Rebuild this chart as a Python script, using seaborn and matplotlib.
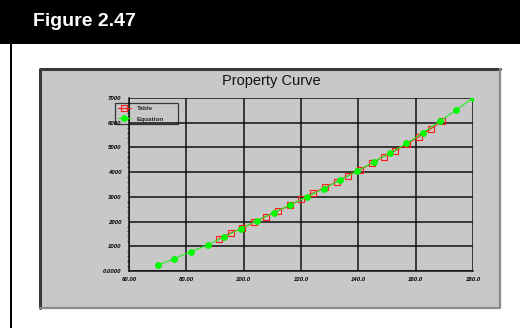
import matplotlib
matplotlib.use("Agg")
import matplotlib.pyplot as plt
import matplotlib.patches as mpatches
import matplotlib.lines as mlines
from matplotlib.ticker import MultipleLocator, FixedLocator
import seaborn as sns
import pandas as pd

# ---- data ----
eq_x = [70.0, 75.8, 81.6, 87.4, 93.2, 98.9, 104.7, 110.5, 116.3, 122.1,
        127.9, 133.7, 139.5, 145.3, 151.1, 156.8, 162.6, 168.4, 174.2, 180.0]
eq_y = [230, 500, 780, 1060, 1380, 1710, 2040, 2360, 2680, 3010,
        3330, 3680, 4040, 4410, 4780, 5160, 5590, 6060, 6520, 7000]
tab_x = [91.4, 95.5, 99.4, 103.6, 107.7, 111.9, 116.1, 120.1, 124.2, 128.3,
         132.5, 136.4, 140.6, 144.7, 148.8, 152.9, 157.0, 161.2, 165.2, 169.2]
tab_y = [1310, 1540, 1730, 1970, 2200, 2430, 2660, 2900, 3150, 3380,
         3615, 3860, 4090, 4360, 4630, 4870, 5150, 5440, 5750, 6070]
x_ticks = [60, 80, 100, 120, 140, 160, 180]
x_labels = ["60.00", "80.00", "100.0", "120.0", "140.0", "160.0", "180.0"]
y_ticks = [0, 1000, 2000, 3000, 4000, 5000, 6000, 7000]
y_labels = ["0.0000", "1000", "2000", "3000", "4000", "5000", "6000", "7000"]
series_names = ["Table", "Equation"]
header_text = "Figure 2.47"
chart_title = "Property Curve"

sns.set_style("white")
plt.rcParams["font.family"] = ["Liberation Sans", "DejaVu Sans"]

W, H = 520, 328
fig = plt.figure(figsize=(W / 100, H / 100), dpi=100)
fig.patch.set_facecolor("white")

def fx(px):
    return px / W

def fy(py):
    return 1 - py / H

# header bar
fig.patches.append(mpatches.Rectangle((0, fy(44)), 1, 44 / H, transform=fig.transFigure,
                                      facecolor="black", edgecolor="none", zorder=-5))
fig.text(fx(33), fy(21), header_text, color="white", fontsize=14, fontweight="bold",
         va="center", ha="left")
# left vertical rule
fig.patches.append(mpatches.Rectangle((fx(10), 0), 2.2 / W, fy(44), transform=fig.transFigure,
                                      facecolor="black", edgecolor="none", zorder=-5))
# gray panel with bevel border
px0, px1, py0, py1 = 40, 500, 69, 308
fig.patches.append(mpatches.Rectangle((fx(px0), fy(py1)), (px1 - px0) / W, (py1 - py0) / H,
                                      transform=fig.transFigure, facecolor="#c8c8c8",
                                      edgecolor="none", zorder=-5))
fig.lines.append(mlines.Line2D([fx(px0), fx(px0), fx(px1)], [fy(py1), fy(py0), fy(py0)],
                               transform=fig.transFigure, color="#3a3a3a", lw=2.2, zorder=-4))
fig.lines.append(mlines.Line2D([fx(px0), fx(px1), fx(px1)], [fy(py1), fy(py1), fy(py0)],
                               transform=fig.transFigure, color="#8a8a8a", lw=1.6, zorder=-4))
fig.text(fx(271), fy(81), chart_title, fontsize=10.5, ha="center", va="center", color="#111111")

# plot area
ax_l, ax_r, ax_t, ax_b = 129, 473, 98, 271
ax = fig.add_axes([fx(ax_l), fy(ax_b), (ax_r - ax_l) / W, (ax_b - ax_t) / H])
ax.set_zorder(2)
ax.set_facecolor("none")

tab_df = pd.DataFrame({"x": tab_x, "y": tab_y})
eq_df = pd.DataFrame({"x": eq_x, "y": eq_y})
sns.lineplot(data=tab_df, x="x", y="y", ax=ax, color="#ff1a1a", lw=0.8, marker="s",
             markersize=4.2, markerfacecolor="none", markeredgecolor="#ff1a1a",
             markeredgewidth=0.8, label=series_names[0], sort=False, estimator=None, zorder=3)
sns.lineplot(data=eq_df, x="x", y="y", ax=ax, color="#22ee22", lw=0.8, marker="o",
             markersize=4.3, markerfacecolor="#00ff00", markeredgecolor="#00ee00",
             markeredgewidth=0.5, label=series_names[1], sort=False, estimator=None, zorder=4)

ax.set_xlim(60, 180)
ax.set_ylim(0, 7000)
ax.set_xlabel("")
ax.set_ylabel("")
ax.xaxis.set_major_locator(FixedLocator(x_ticks))
ax.yaxis.set_major_locator(FixedLocator(y_ticks))
ax.set_xticklabels(x_labels)
ax.set_yticklabels(y_labels)
ax.yaxis.set_minor_locator(MultipleLocator(200))
ax.tick_params(axis="x", which="major", direction="out", length=2.5, width=0.9,
               labelsize=4.3, pad=2.0, colors="black", labelcolor="black")
ax.tick_params(axis="y", which="major", direction="out", length=2.5, width=0.9,
               labelsize=4.3, pad=3.0, colors="black", labelcolor="black")
ax.tick_params(axis="y", which="minor", direction="out", length=1.5, width=0.6, left=True)
for lab in ax.get_xticklabels() + ax.get_yticklabels():
    lab.set_fontweight("bold")
    lab.set_fontstyle("italic")
ax.grid(True, which="major", color="#111111", lw=1.1)
ax.set_axisbelow(True)
for s in ["top", "right"]:
    ax.spines[s].set_visible(False)
for s in ["left", "bottom"]:
    ax.spines[s].set_color("#111111")
    ax.spines[s].set_linewidth(1.1)

lx0 = (115 - ax_l) / (ax_r - ax_l)
lw_ = (178 - 115) / (ax_r - ax_l)
ly1 = (ax_b - 103) / (ax_b - ax_t)
lh = (126 - 103) / (ax_b - ax_t)
leg = ax.legend(loc="upper left", bbox_to_anchor=(lx0, ly1 - lh, lw_, lh), mode="expand",
                borderaxespad=0, fontsize=4.6, frameon=True, fancybox=False, framealpha=None,
                edgecolor="#111111", facecolor="none", handlelength=2.0, handletextpad=1.0,
                borderpad=0.45, labelspacing=0.75)
leg.get_frame().set_linewidth(0.9)
for t in leg.get_texts():
    t.set_fontweight("bold")
leg.set_zorder(10)

fig.savefig("out.png", dpi=100)
